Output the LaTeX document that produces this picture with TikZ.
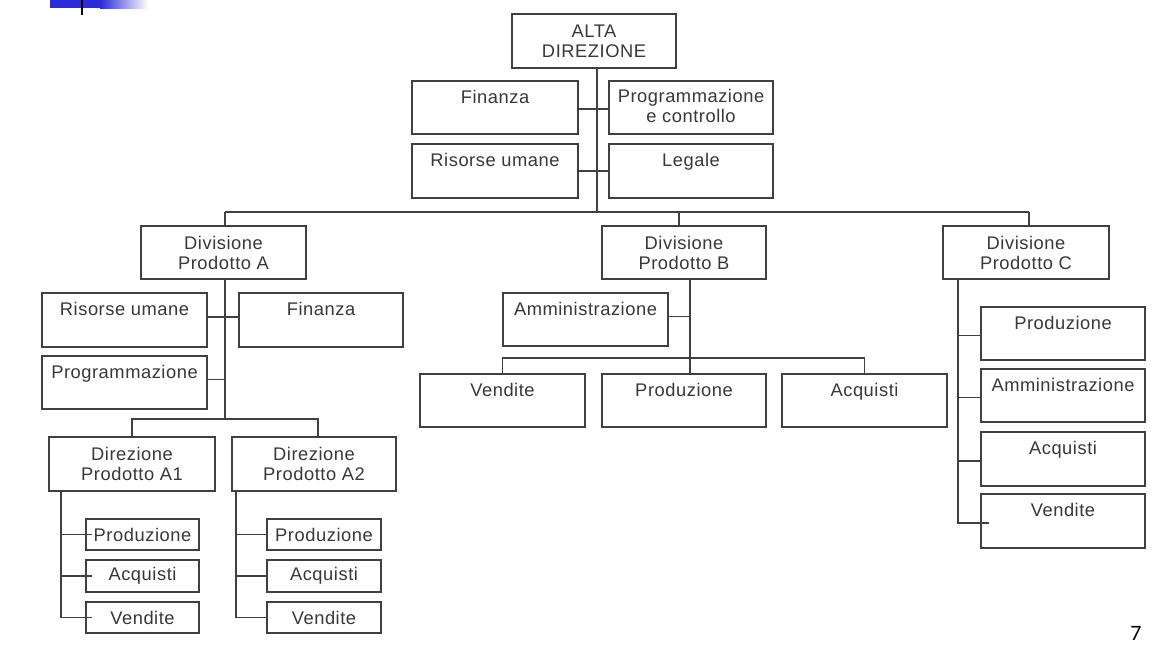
\documentclass[tikz,border=0pt]{standalone}
\usepackage{fontspec}
\setmainfont{Liberation Sans}
\newfontfamily\lsf[LetterSpace=3]{Liberation Sans}
\newfontfamily\pgnum{Carlito}
\definecolor{ln}{HTML}{404040}
\definecolor{tx}{HTML}{383838}
\definecolor{bar}{HTML}{2B2BD9}
\newcommand\obox[6]{%
  \node[bx, minimum width=#4pt, minimum height=#5pt] (#1) at (#2,#3) {};
  \node[txt] (#1t) at (#1.center) {#6};}
\newcommand\tbox[6]{%
  \node[bx, minimum width=#4pt, minimum height=#5pt] (#1) at (#2,#3) {};
  \node[txt, anchor=north] (#1t) at ([yshift=-9pt]#1.north) {#6};}
\begin{document}
\begin{tikzpicture}[x=1pt,y=-1pt,
  bx/.style={draw=ln, line width=1.3pt, anchor=north west, inner sep=0pt, outer sep=0pt},
  txt/.style={text=tx, font=\lsf\fontsize{18.3}{20}\selectfont, align=center, inner sep=0pt},
  cn/.style={draw=ln, line width=1.3pt}]
\useasboundingbox[fill=white] (0,0) rectangle (1167,645);
% header decoration
\fill[bar] (50,0) rectangle (100,8);
\shade[left color=bar, right color=white] (100,0) rectangle (148,8);
\draw[line width=2pt, black] (82,0) -- (82,15);
% top level
\obox{alta}{512}{14}{164}{54}{ALTA\\DIREZIONE}
\tbox{fin}{412}{81}{166}{53}{Finanza}
\node[bx, minimum width=164pt, minimum height=53pt] (pcon) at (609,81) {};
\node[txt] (pcont) at ([yshift=2pt]pcon.center) {Programmazione\\e controllo};
\tbox{ris}{412}{144}{166}{54}{Risorse umane}
\tbox{leg}{609}{144}{164}{54}{Legale}
% divisions
\obox{divA}{141}{226}{165}{53}{Divisione\\Prodotto A}
\obox{divB}{602}{226}{164}{53}{Divisione\\Prodotto B}
\obox{divC}{943}{226}{166}{53}{Divisione\\Prodotto C}
% division A
\tbox{risA}{42}{293}{165}{54}{Risorse umane}
\tbox{finA}{239}{293}{164}{54}{Finanza}
\tbox{progA}{42}{356}{165}{53}{Programmazione}
\obox{a1}{49}{437}{166}{54}{Direzione\\Prodotto A1}
\obox{a2}{232}{437}{164}{54}{Direzione\\Prodotto A2}
\obox{a1p}{86}{519}{113}{31}{Produzione}
\obox{a1q}{86}{560}{113}{32}{Acquisti}
\obox{a1v}{86}{602}{113}{31}{Vendite}
\obox{a2p}{267}{519}{114}{31}{Produzione}
\obox{a2q}{267}{560}{114}{32}{Acquisti}
\obox{a2v}{267}{602}{114}{31}{Vendite}
% division B
\tbox{amm}{503}{293}{165}{53}{Amministrazione}
\tbox{venB}{420}{374}{165}{53}{Vendite}
\tbox{prodB}{602}{374}{164}{53}{Produzione}
\tbox{acqB}{782}{374}{165}{53}{Acquisti}
% division C
\tbox{prodC}{981}{307}{164}{53}{Produzione}
\tbox{ammC}{981}{369}{164}{53}{Amministrazione}
\tbox{acqC}{981}{432}{164}{54}{Acquisti}
\tbox{venC}{981}{494}{164}{54}{Vendite}
% page number
\node[font=\pgnum\fontsize{22}{24}\selectfont, inner sep=0pt, anchor=north] (pg) at (1136,626) {7};
% connectors: top
\coordinate (busM) at (597,212);
\coordinate (busA) at (225,212);
\coordinate (busB) at (679,212);
\coordinate (busC) at (1029,212);
\draw[cn] (alta.south -| busM) -- (busM);
\draw[cn] (busA) -- (busC);
\draw[cn] (busA) -- (busA |- divA.north);
\draw[cn] (busB) -- (busB |- divB.north);
\draw[cn] (busC) -- (busC |- divC.north);
\draw[cn] ([yshift=-1.5pt]fin.east) -- ([yshift=-1.5pt]pcon.west);
\draw[cn] (ris.east) -- (leg.west);
% division A
\coordinate (ax) at (225,419);
\coordinate (sa2) at (318,419);
\draw[cn] (divA.south -| ax) -- (ax);
\draw[cn] ([yshift=3pt]risA.east) -- ([yshift=3pt]finA.west);
\draw[cn] ([yshift=3pt]progA.east) -- ([yshift=3pt]progA.east -| ax);
\draw[cn] (a1.north) -- (a1.north |- ax) -- (sa2) -- (sa2 |- a2.north);
\coordinate (c1) at (61,0);
\draw[cn] (a1.south -| c1) -- (c1 |- a1v.west) -- ([xshift=6pt]a1v.west);
\draw[cn] (c1 |- a1p.west) -- ([xshift=6pt]a1p.west);
\draw[cn] (c1 |- a1q.west) -- ([xshift=6pt]a1q.west);
\coordinate (c2) at (236,0);
\draw[cn] (a2.south -| c2) -- (c2 |- a2v.west) -- (a2v.west);
\draw[cn] (c2 |- a2p.west) -- (a2p.west);
\draw[cn] (c2 |- a2q.west) -- (a2q.west);
% division B
\coordinate (bx) at (690,0);
\coordinate (bsub) at (0,358);
\draw[cn] (divB.south -| bx) -- (bx |- prodB.north);
\draw[cn] ([yshift=3pt]amm.east) -- ([yshift=3pt]amm.east -| bx);
\draw[cn] (venB.north) -- (venB.north |- bsub) -- (acqB.north |- bsub) -- (acqB.north);
% division C
\coordinate (cx) at (958,0);
\draw[cn] (divC.south -| cx) -- ([yshift=-2pt]cx |- venC.west) -- ([yshift=-2pt,xshift=8pt]venC.west);
\draw[cn] ([yshift=-2pt]cx |- prodC.west) -- ([yshift=-2pt]prodC.west);
\draw[cn] ([yshift=-2pt]cx |- ammC.west) -- ([yshift=-2pt]ammC.west);
\draw[cn] ([yshift=-2pt]cx |- acqC.west) -- ([yshift=-2pt]acqC.west);
\end{tikzpicture}
\end{document}
